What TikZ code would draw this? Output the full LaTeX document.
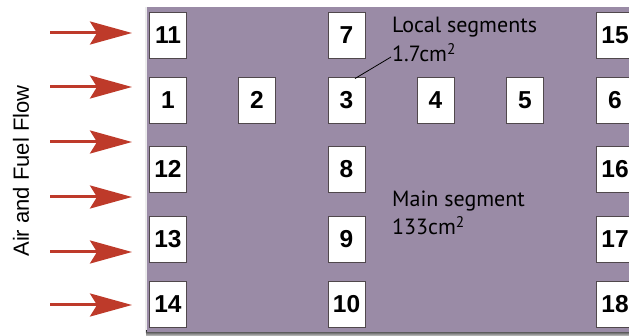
\documentclass[tikz,border=0pt]{standalone}
\usepackage{fontspec}
\setmainfont{Liberation Sans}
\newfontfamily\lblfont{PT Sans}
\usetikzlibrary{arrows.meta}
\definecolor{plate}{RGB}{154,139,166}
\definecolor{flowred}{RGB}{190,58,42}
\definecolor{boxedge}{RGB}{80,72,76}
\tikzset{
  seg/.style={draw=boxedge, line width=0.9pt, fill=white, minimum width=37pt, minimum height=46pt, inner sep=0pt, font=\fontsize{24.5}{24.5}\selectfont\bfseries},
  flow/.style={draw=flowred, line width=3pt, -{Stealth[length=42pt,width=23pt,inset=7pt]}},
  note/.style={anchor=base west, inner sep=0pt, font=\lblfont\fontsize{22}{22}\selectfont}
}
\begin{document}
\begin{tikzpicture}[x=1pt,y=-1pt]
\useasboundingbox (0,0) rectangle (629,336);
\begin{scope}
\clip (0,0) rectangle (629,336);
% shadow
\fill[gray!15] (145,7) rectangle (640,333);
\shade[top color=black!75, bottom color=black!20] (146,331) rectangle (640,336);
% plate
\fill[plate] (147,7.5) rectangle (640,332);
% boxes
\node[seg] (b11) at (168,35) {11};
\node[seg] (b1) at (168,100) {1};
\node[seg] (b12) at (168,169) {12};
\node[seg] (b13) at (168,239.5) {13};
\node[seg] (b14) at (168,304.5) {14};
\node[seg] (b2) at (257,100) {2};
\node[seg] (b7) at (346.5,35) {7};
\node[seg] (b3) at (346.5,100) {3};
\node[seg] (b8) at (346.5,169) {8};
\node[seg] (b9) at (346.5,239.5) {9};
\node[seg] (b10) at (346.5,304.5) {10};
\node[seg] (b4) at (435.5,100) {4};
\node[seg] (b5) at (525,100) {5};
\node[seg] (b15) at (615,35) {15};
\node[seg] (b6) at (615,100) {6};
\node[seg] (b16) at (615,169) {16};
\node[seg] (b17) at (615,239.5) {17};
\node[seg] (b18) at (615,304.5) {18};
\end{scope}
% labels
\node[note] (loc) at (392,33) {Local segments};
\node[note] (locarea) at (392,62) {1.7cm\textsuperscript{2}};
\node[note] (main) at (392,207) {Main segment};
\node[note] (mainarea) at (392,235) {133cm\textsuperscript{2}};
\draw[line width=0.8pt, black] ([xshift=8.5pt,yshift=-2pt]b3.north) -- ([xshift=-1pt,yshift=5pt]locarea.base west);
% flow arrows
\foreach \i/\y in {1/33,2/87,3/142,4/197,5/252,6/305}{
  \coordinate (s\i) at (50,\y);
  \coordinate (t\i) at (132,\y);
  \draw[flow] (s\i) -- (t\i);
}
\node[rotate=90, inner sep=0pt, font=\fontsize{22}{22}\selectfont] (flowlbl) at (21,171) {Air and Fuel Flow};
\end{tikzpicture}
\end{document}
